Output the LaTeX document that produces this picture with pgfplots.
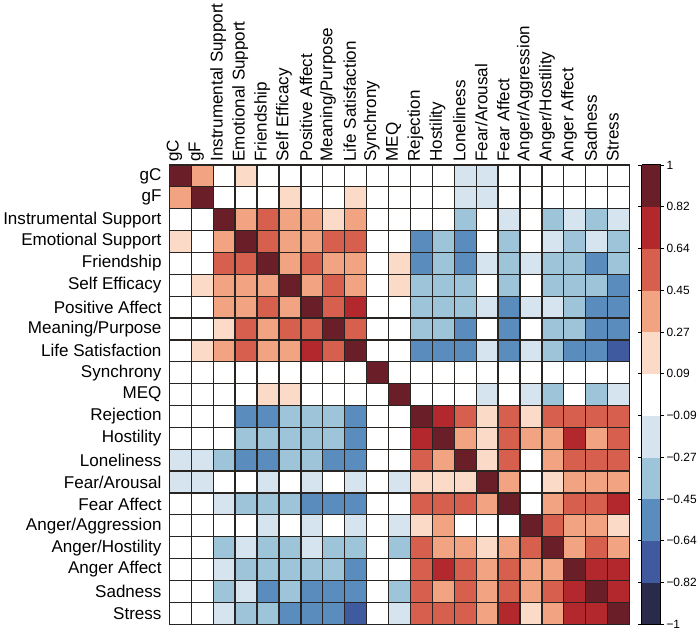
\documentclass[border=0pt]{standalone}
\usepackage{pgfplots}
\pgfplotsset{compat=1.18}
\usepackage{fontspec}
\setmainfont{Liberation Sans}
\definecolor{gridc}{RGB}{40,36,34}
\begin{document}
\begin{tikzpicture}
\begin{axis}[
  scale only axis, width=468bp, height=467bp,
  xmin=-0.5, xmax=20.5, ymin=-0.5, ymax=20.5, y dir=reverse,
  xtick={0,...,20}, ytick={0,...,20},
  xticklabels={gC,gF,Instrumental Support,Emotional Support,Friendship,Self Efficacy,Positive Affect,Meaning/Purpose,Life Satisfaction,Synchrony,MEQ,Rejection,Hostility,Loneliness,Fear/Arousal,Fear Affect,Anger/Aggression,Anger/Hostility,Anger Affect,Sadness,Stress},
  yticklabels={gC,gF,Instrumental Support,Emotional Support,Friendship,Self Efficacy,Positive Affect,Meaning/Purpose,Life Satisfaction,Synchrony,MEQ,Rejection,Hostility,Loneliness,Fear/Arousal,Fear Affect,Anger/Aggression,Anger/Hostility,Anger Affect,Sadness,Stress},
  xticklabel pos=right,
  xticklabel style={rotate=90, anchor=west, font=\fontsize{17.4}{21}\selectfont, yshift=6bp},
  yticklabel style={anchor=east, font=\fontsize{17.4}{21}\selectfont, xshift=-4.5bp},
  major tick length=0pt, minor tick length=0pt,
  minor xtick={-0.5,0.5,...,20.5}, minor ytick={-0.5,0.5,...,20.5},
  grid=minor, minor grid style={draw=gridc, line width=1.3bp},
  axis on top,
  axis line style={draw=gridc, line width=1.3bp},
  colormap={corr}{rgb255=(42,42,75) rgb255=(64,90,160) rgb255=(91,140,190) rgb255=(158,196,218) rgb255=(214,228,239) rgb255=(255,255,255) rgb255=(252,218,200) rgb255=(242,163,130) rgb255=(214,96,77) rgb255=(178,40,45) rgb255=(105,30,40)},
  colormap access=piecewise constant,
  point meta min=-1, point meta max=1,
  colorbar,
  colorbar style={
    width=19bp,
    at={(parent axis.north east)}, anchor=north west, xshift=4bp,
    ytick={-1,-0.8182,-0.6364,-0.4545,-0.2727,-0.0909,0.0909,0.2727,0.4545,0.6364,0.8182,1},
    yticklabels={−1,−0.82,−0.64,−0.45,−0.27,−0.09,0.09,0.27,0.45,0.64,0.82,1},
    yticklabel style={font=\fontsize{12.2}{15}\selectfont, xshift=-1bp},
    tick align=outside, major tick length=3.5bp,
    tick style={draw=black, line width=0.8bp},
    axis line style={draw=black, line width=1bp},
  },
]
\addplot[matrix plot*, mesh/cols=21, point meta=explicit] coordinates {
(0,0)[1] (1,0)[0.36] (2,0)[0] (3,0)[0.18] (4,0)[0] (5,0)[0] (6,0)[0] (7,0)[0] (8,0)[0] (9,0)[0] (10,0)[0] (11,0)[0] (12,0)[0] (13,0)[-0.18] (14,0)[-0.18] (15,0)[0] (16,0)[0] (17,0)[0] (18,0)[0] (19,0)[0] (20,0)[0]
(0,1)[0.36] (1,1)[1] (2,1)[0] (3,1)[0] (4,1)[0] (5,1)[0.18] (6,1)[0] (7,1)[0] (8,1)[0.18] (9,1)[0] (10,1)[0] (11,1)[0] (12,1)[0] (13,1)[-0.18] (14,1)[-0.18] (15,1)[0] (16,1)[0] (17,1)[0] (18,1)[0] (19,1)[0] (20,1)[0]
(0,2)[0] (1,2)[0] (2,2)[1] (3,2)[0.36] (4,2)[0.55] (5,2)[0.36] (6,2)[0.36] (7,2)[0.18] (8,2)[0.36] (9,2)[0] (10,2)[0] (11,2)[0] (12,2)[0] (13,2)[-0.36] (14,2)[0] (15,2)[-0.18] (16,2)[0] (17,2)[-0.36] (18,2)[-0.18] (19,2)[-0.36] (20,2)[-0.18]
(0,3)[0.18] (1,3)[0] (2,3)[0.36] (3,3)[1] (4,3)[0.55] (5,3)[0.36] (6,3)[0.36] (7,3)[0.55] (8,3)[0.55] (9,3)[0] (10,3)[0] (11,3)[-0.55] (12,3)[-0.36] (13,3)[-0.55] (14,3)[0] (15,3)[-0.36] (16,3)[0] (17,3)[-0.18] (18,3)[-0.36] (19,3)[-0.18] (20,3)[-0.36]
(0,4)[0] (1,4)[0] (2,4)[0.55] (3,4)[0.55] (4,4)[1] (5,4)[0.36] (6,4)[0.55] (7,4)[0.36] (8,4)[0.36] (9,4)[0] (10,4)[0.18] (11,4)[-0.55] (12,4)[-0.36] (13,4)[-0.55] (14,4)[-0.18] (15,4)[-0.36] (16,4)[-0.18] (17,4)[-0.36] (18,4)[-0.36] (19,4)[-0.55] (20,4)[-0.36]
(0,5)[0] (1,5)[0.18] (2,5)[0.36] (3,5)[0.36] (4,5)[0.36] (5,5)[1] (6,5)[0.36] (7,5)[0.55] (8,5)[0.36] (9,5)[0] (10,5)[0.18] (11,5)[-0.36] (12,5)[-0.36] (13,5)[-0.36] (14,5)[0] (15,5)[-0.36] (16,5)[0] (17,5)[-0.36] (18,5)[-0.36] (19,5)[-0.36] (20,5)[-0.55]
(0,6)[0] (1,6)[0] (2,6)[0.36] (3,6)[0.36] (4,6)[0.55] (5,6)[0.36] (6,6)[1] (7,6)[0.55] (8,6)[0.73] (9,6)[0] (10,6)[0] (11,6)[-0.36] (12,6)[-0.36] (13,6)[-0.36] (14,6)[-0.18] (15,6)[-0.55] (16,6)[-0.18] (17,6)[-0.18] (18,6)[-0.36] (19,6)[-0.55] (20,6)[-0.55]
(0,7)[0] (1,7)[0] (2,7)[0.18] (3,7)[0.55] (4,7)[0.36] (5,7)[0.55] (6,7)[0.55] (7,7)[1] (8,7)[0.55] (9,7)[0] (10,7)[0] (11,7)[-0.36] (12,7)[-0.36] (13,7)[-0.55] (14,7)[0] (15,7)[-0.55] (16,7)[0] (17,7)[-0.36] (18,7)[-0.36] (19,7)[-0.55] (20,7)[-0.55]
(0,8)[0] (1,8)[0.18] (2,8)[0.36] (3,8)[0.55] (4,8)[0.36] (5,8)[0.36] (6,8)[0.73] (7,8)[0.55] (8,8)[1] (9,8)[0] (10,8)[0] (11,8)[-0.55] (12,8)[-0.55] (13,8)[-0.55] (14,8)[-0.18] (15,8)[-0.55] (16,8)[-0.18] (17,8)[-0.36] (18,8)[-0.55] (19,8)[-0.55] (20,8)[-0.73]
(0,9)[0] (1,9)[0] (2,9)[0] (3,9)[0] (4,9)[0] (5,9)[0] (6,9)[0] (7,9)[0] (8,9)[0] (9,9)[1] (10,9)[0] (11,9)[0] (12,9)[0] (13,9)[0] (14,9)[0] (15,9)[0] (16,9)[0] (17,9)[0] (18,9)[0] (19,9)[0] (20,9)[0]
(0,10)[0] (1,10)[0] (2,10)[0] (3,10)[0] (4,10)[0.18] (5,10)[0.18] (6,10)[0] (7,10)[0] (8,10)[0] (9,10)[0] (10,10)[1] (11,10)[0] (12,10)[0] (13,10)[0] (14,10)[-0.18] (15,10)[0] (16,10)[-0.18] (17,10)[-0.36] (18,10)[0] (19,10)[-0.36] (20,10)[-0.18]
(0,11)[0] (1,11)[0] (2,11)[0] (3,11)[-0.55] (4,11)[-0.55] (5,11)[-0.36] (6,11)[-0.36] (7,11)[-0.36] (8,11)[-0.55] (9,11)[0] (10,11)[0] (11,11)[1] (12,11)[0.73] (13,11)[0.55] (14,11)[0.18] (15,11)[0.55] (16,11)[0.18] (17,11)[0.55] (18,11)[0.55] (19,11)[0.55] (20,11)[0.55]
(0,12)[0] (1,12)[0] (2,12)[0] (3,12)[-0.36] (4,12)[-0.36] (5,12)[-0.36] (6,12)[-0.36] (7,12)[-0.36] (8,12)[-0.55] (9,12)[0] (10,12)[0] (11,12)[0.73] (12,12)[1] (13,12)[0.36] (14,12)[0.18] (15,12)[0.55] (16,12)[0.36] (17,12)[0.36] (18,12)[0.73] (19,12)[0.36] (20,12)[0.55]
(0,13)[-0.18] (1,13)[-0.18] (2,13)[-0.36] (3,13)[-0.55] (4,13)[-0.55] (5,13)[-0.36] (6,13)[-0.36] (7,13)[-0.55] (8,13)[-0.55] (9,13)[0] (10,13)[0] (11,13)[0.55] (12,13)[0.36] (13,13)[1] (14,13)[0.18] (15,13)[0.55] (16,13)[0] (17,13)[0.36] (18,13)[0.55] (19,13)[0.55] (20,13)[0.55]
(0,14)[-0.18] (1,14)[-0.18] (2,14)[0] (3,14)[0] (4,14)[-0.18] (5,14)[0] (6,14)[-0.18] (7,14)[0] (8,14)[-0.18] (9,14)[0] (10,14)[-0.18] (11,14)[0.18] (12,14)[0.18] (13,14)[0.18] (14,14)[1] (15,14)[0.36] (16,14)[0] (17,14)[0.18] (18,14)[0.36] (19,14)[0.36] (20,14)[0.36]
(0,15)[0] (1,15)[0] (2,15)[-0.18] (3,15)[-0.36] (4,15)[-0.36] (5,15)[-0.36] (6,15)[-0.55] (7,15)[-0.55] (8,15)[-0.55] (9,15)[0] (10,15)[0] (11,15)[0.55] (12,15)[0.55] (13,15)[0.55] (14,15)[0.36] (15,15)[1] (16,15)[0] (17,15)[0.36] (18,15)[0.55] (19,15)[0.55] (20,15)[0.73]
(0,16)[0] (1,16)[0] (2,16)[0] (3,16)[0] (4,16)[-0.18] (5,16)[0] (6,16)[-0.18] (7,16)[0] (8,16)[-0.18] (9,16)[0] (10,16)[-0.18] (11,16)[0.18] (12,16)[0.36] (13,16)[0] (14,16)[0] (15,16)[0] (16,16)[1] (17,16)[0.55] (18,16)[0.36] (19,16)[0.36] (20,16)[0.18]
(0,17)[0] (1,17)[0] (2,17)[-0.36] (3,17)[-0.18] (4,17)[-0.36] (5,17)[-0.36] (6,17)[-0.18] (7,17)[-0.36] (8,17)[-0.36] (9,17)[0] (10,17)[-0.36] (11,17)[0.55] (12,17)[0.36] (13,17)[0.36] (14,17)[0.18] (15,17)[0.36] (16,17)[0.55] (17,17)[1] (18,17)[0.36] (19,17)[0.55] (20,17)[0.36]
(0,18)[0] (1,18)[0] (2,18)[-0.18] (3,18)[-0.36] (4,18)[-0.36] (5,18)[-0.36] (6,18)[-0.36] (7,18)[-0.36] (8,18)[-0.55] (9,18)[0] (10,18)[0] (11,18)[0.55] (12,18)[0.73] (13,18)[0.55] (14,18)[0.36] (15,18)[0.55] (16,18)[0.36] (17,18)[0.36] (18,18)[1] (19,18)[0.73] (20,18)[0.73]
(0,19)[0] (1,19)[0] (2,19)[-0.36] (3,19)[-0.18] (4,19)[-0.55] (5,19)[-0.36] (6,19)[-0.55] (7,19)[-0.55] (8,19)[-0.55] (9,19)[0] (10,19)[-0.36] (11,19)[0.55] (12,19)[0.36] (13,19)[0.55] (14,19)[0.36] (15,19)[0.55] (16,19)[0.36] (17,19)[0.55] (18,19)[0.73] (19,19)[1] (20,19)[0.73]
(0,20)[0] (1,20)[0] (2,20)[-0.18] (3,20)[-0.36] (4,20)[-0.36] (5,20)[-0.55] (6,20)[-0.55] (7,20)[-0.55] (8,20)[-0.73] (9,20)[0] (10,20)[-0.18] (11,20)[0.55] (12,20)[0.55] (13,20)[0.55] (14,20)[0.36] (15,20)[0.73] (16,20)[0.18] (17,20)[0.36] (18,20)[0.73] (19,20)[0.73] (20,20)[1]
};
\end{axis}
\end{tikzpicture}
\end{document}
